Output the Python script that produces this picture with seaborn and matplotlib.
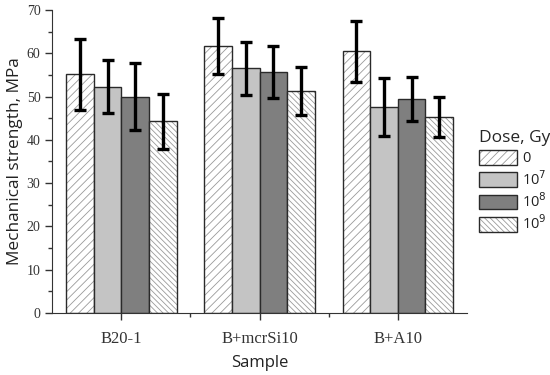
import pandas as pd
import seaborn as sns
import matplotlib.pyplot as plt
import matplotlib.colors as mcolors
from matplotlib.ticker import MultipleLocator, FixedLocator

# values
samples = ["B20-1", "B+mcrSi10", "B+A10"]
doses = ["0", "1e7", "1e8", "1e9"]
dose_labels = ["0", "10$^7$", "10$^8$", "10$^9$"]
strength_0 = [55.2, 61.7, 60.5]
strength_1e7 = [52.3, 56.5, 47.6]
strength_1e8 = [50.0, 55.7, 49.4]
strength_1e9 = [44.3, 51.3, 45.3]
err_0 = [8.2, 6.4, 7.1]
err_1e7 = [6.1, 6.2, 6.7]
err_1e8 = [7.7, 6.1, 5.1]
err_1e9 = [6.4, 5.6, 4.6]

values = [strength_0, strength_1e7, strength_1e8, strength_1e9]
errors = [err_0, err_1e7, err_1e8, err_1e9]

rows = []
for d, vals, errs in zip(doses, values, errors):
    for s, v, e in zip(samples, vals, errs):
        rows.append({"Sample": s, "Dose": d, "Strength": v, "Err": e})
df = pd.DataFrame(rows)

sns.set_style("ticks")
plt.rcParams["hatch.linewidth"] = 0.6

fig = plt.figure(figsize=(5.5, 3.75), dpi=100)
ax = fig.add_axes([0.095, 0.166, 0.754, 0.807])

face = ["white", "#c4c4c4", "#7f7f7f", "white"]
hatches = ["////", "", "", "\\\\\\\\\\\\"]
sns.barplot(data=df, x="Sample", y="Strength", hue="Dose", order=samples,
            hue_order=doses, palette=face, width=0.8, errorbar=None,
            saturation=1, edgecolor="#2a2a2a", linewidth=1.0, legend=False, ax=ax)

bar_conts = list(ax.containers)
for cont, h, d in zip(bar_conts, hatches, doses):
    sub = df[df["Dose"] == d].set_index("Sample").loc[samples]
    xs = []
    for p in cont.patches:
        p.set_hatch(h)
        p._hatch_color = mcolors.to_rgba("#9a9a9a")
        xs.append(p.get_x() + p.get_width() / 2)
    ax.errorbar(xs, sub["Strength"], yerr=sub["Err"], fmt="none", ecolor="black",
                elinewidth=2.4, capsize=4.5, capthick=2.4, zorder=5)

ax.set_xlim(-0.5, 2.5)
ax.set_ylim(0, 70)
ax.yaxis.set_major_locator(MultipleLocator(10))
ax.yaxis.set_minor_locator(MultipleLocator(5))
ax.xaxis.set_minor_locator(FixedLocator([0.5, 1.5]))
ax.tick_params(axis="both", which="major", length=5, width=1, color="#333333")
ax.tick_params(axis="both", which="minor", length=3, width=1, color="#333333")
ax.tick_params(axis="x", which="major", pad=8)
sns.despine(ax=ax)
for sp in ["left", "bottom"]:
    ax.spines[sp].set_color("#333333")

for lab in ax.get_xticklabels() + ax.get_yticklabels():
    lab.set_fontfamily("Liberation Serif")
    lab.set_color("#333333")
for lab in ax.get_xticklabels():
    lab.set_fontsize(12)
for lab in ax.get_yticklabels():
    lab.set_fontsize(10)

ax.set_xlabel("Sample", fontfamily="Open Sans", fontsize=12, color="#222222", labelpad=6)
ax.set_ylabel("Mechanical strength, MPa", fontfamily="Open Sans", fontsize=12.4,
              color="#222222")
ax.yaxis.set_label_coords(-0.07, 0.5)

handles = [c.patches[0] for c in bar_conts]
leg = fig.legend(handles, dose_labels, title="Dose, Gy", loc="upper left",
                 bbox_to_anchor=(0.852, 0.68), frameon=False, alignment="left",
                 handlelength=2.6, handleheight=1.2, labelspacing=0.25,
                 handletextpad=0.35, borderpad=0.2,
                 prop={"family": "Open Sans", "size": 10.5},
                 title_fontproperties={"family": "Open Sans", "size": 12.5})
for t in leg.get_texts():
    t.set_color("#222222")

fig.savefig("out.png", dpi=100)
